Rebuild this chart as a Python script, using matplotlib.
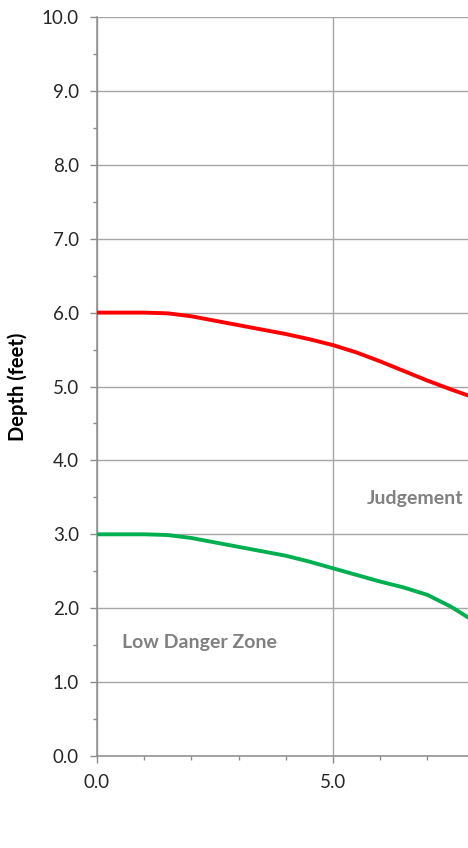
import matplotlib
matplotlib.use("Agg")
import matplotlib.pyplot as plt
from matplotlib.ticker import MultipleLocator

# velocity vs depth (feet) danger curves
x_vals = [0.0, 0.5, 1.0, 1.5, 2.0, 2.5, 3.0, 3.5, 4.0, 4.5, 5.0, 5.5, 6.0, 6.5, 7.0, 7.5, 7.9]
high_line = [6.0, 6.0, 6.0, 5.99, 5.95, 5.89, 5.83, 5.77, 5.71, 5.64, 5.56, 5.46, 5.34, 5.21, 5.08, 4.96, 4.87]
low_line = [3.0, 3.0, 3.0, 2.99, 2.95, 2.89, 2.83, 2.77, 2.71, 2.63, 2.54, 2.45, 2.36, 2.28, 2.18, 2.02, 1.86]

font = "Lato"
grid_c = "#a6a6a6"
axis_c = "#8c8c8c"

fig = plt.figure(figsize=(4.68, 8.48), dpi=100)
ax = fig.add_axes([97/468, 92/848, 1 - 97/468, (756-17)/848])

ax.plot(x_vals, high_line, color="#ff0000", lw=2.8, solid_joinstyle="round", zorder=3)
ax.plot(x_vals, low_line, color="#00b050", lw=2.8, solid_joinstyle="round", zorder=3)

ax.set_xlim(0, 7.86)
ax.set_ylim(0, 10)
ax.xaxis.set_major_locator(MultipleLocator(5))
ax.xaxis.set_minor_locator(MultipleLocator(1))
ax.yaxis.set_major_locator(MultipleLocator(1))
ax.yaxis.set_minor_locator(MultipleLocator(0.5))
ax.xaxis.set_major_formatter(lambda v, p: "%.1f" % v)
ax.yaxis.set_major_formatter(lambda v, p: "%.1f" % v)

ax.grid(True, which="major", color=grid_c, lw=1.0)
ax.set_axisbelow(True)
for s in ["top", "right"]:
    ax.spines[s].set_visible(False)
for s in ["left", "bottom"]:
    ax.spines[s].set_color(axis_c)
    ax.spines[s].set_linewidth(1.1)

ax.tick_params(which="major", length=5, width=1.0, color=axis_c, pad=8,
               labelsize=13.5, labelcolor="#262626")
ax.tick_params(which="minor", length=3, width=1.0, color=axis_c)
for lbl in ax.get_xticklabels() + ax.get_yticklabels():
    lbl.set_fontfamily(font)

ax.set_ylabel("Depth (feet)", fontsize=14.5, fontweight="bold", family=font)
ax.yaxis.set_label_coords(-(97-28)/371, 0.5)

ax.text(0.53, 1.53, "Low Danger Zone", fontsize=14, fontweight="bold", color="#808080",
        family=font, va="center", ha="left")
ax.text(5.72, 3.49, "Judgement", fontsize=14, fontweight="bold", color="#808080",
        family=font, va="center", ha="left", clip_on=False)

fig.savefig("out.png", dpi=100)
